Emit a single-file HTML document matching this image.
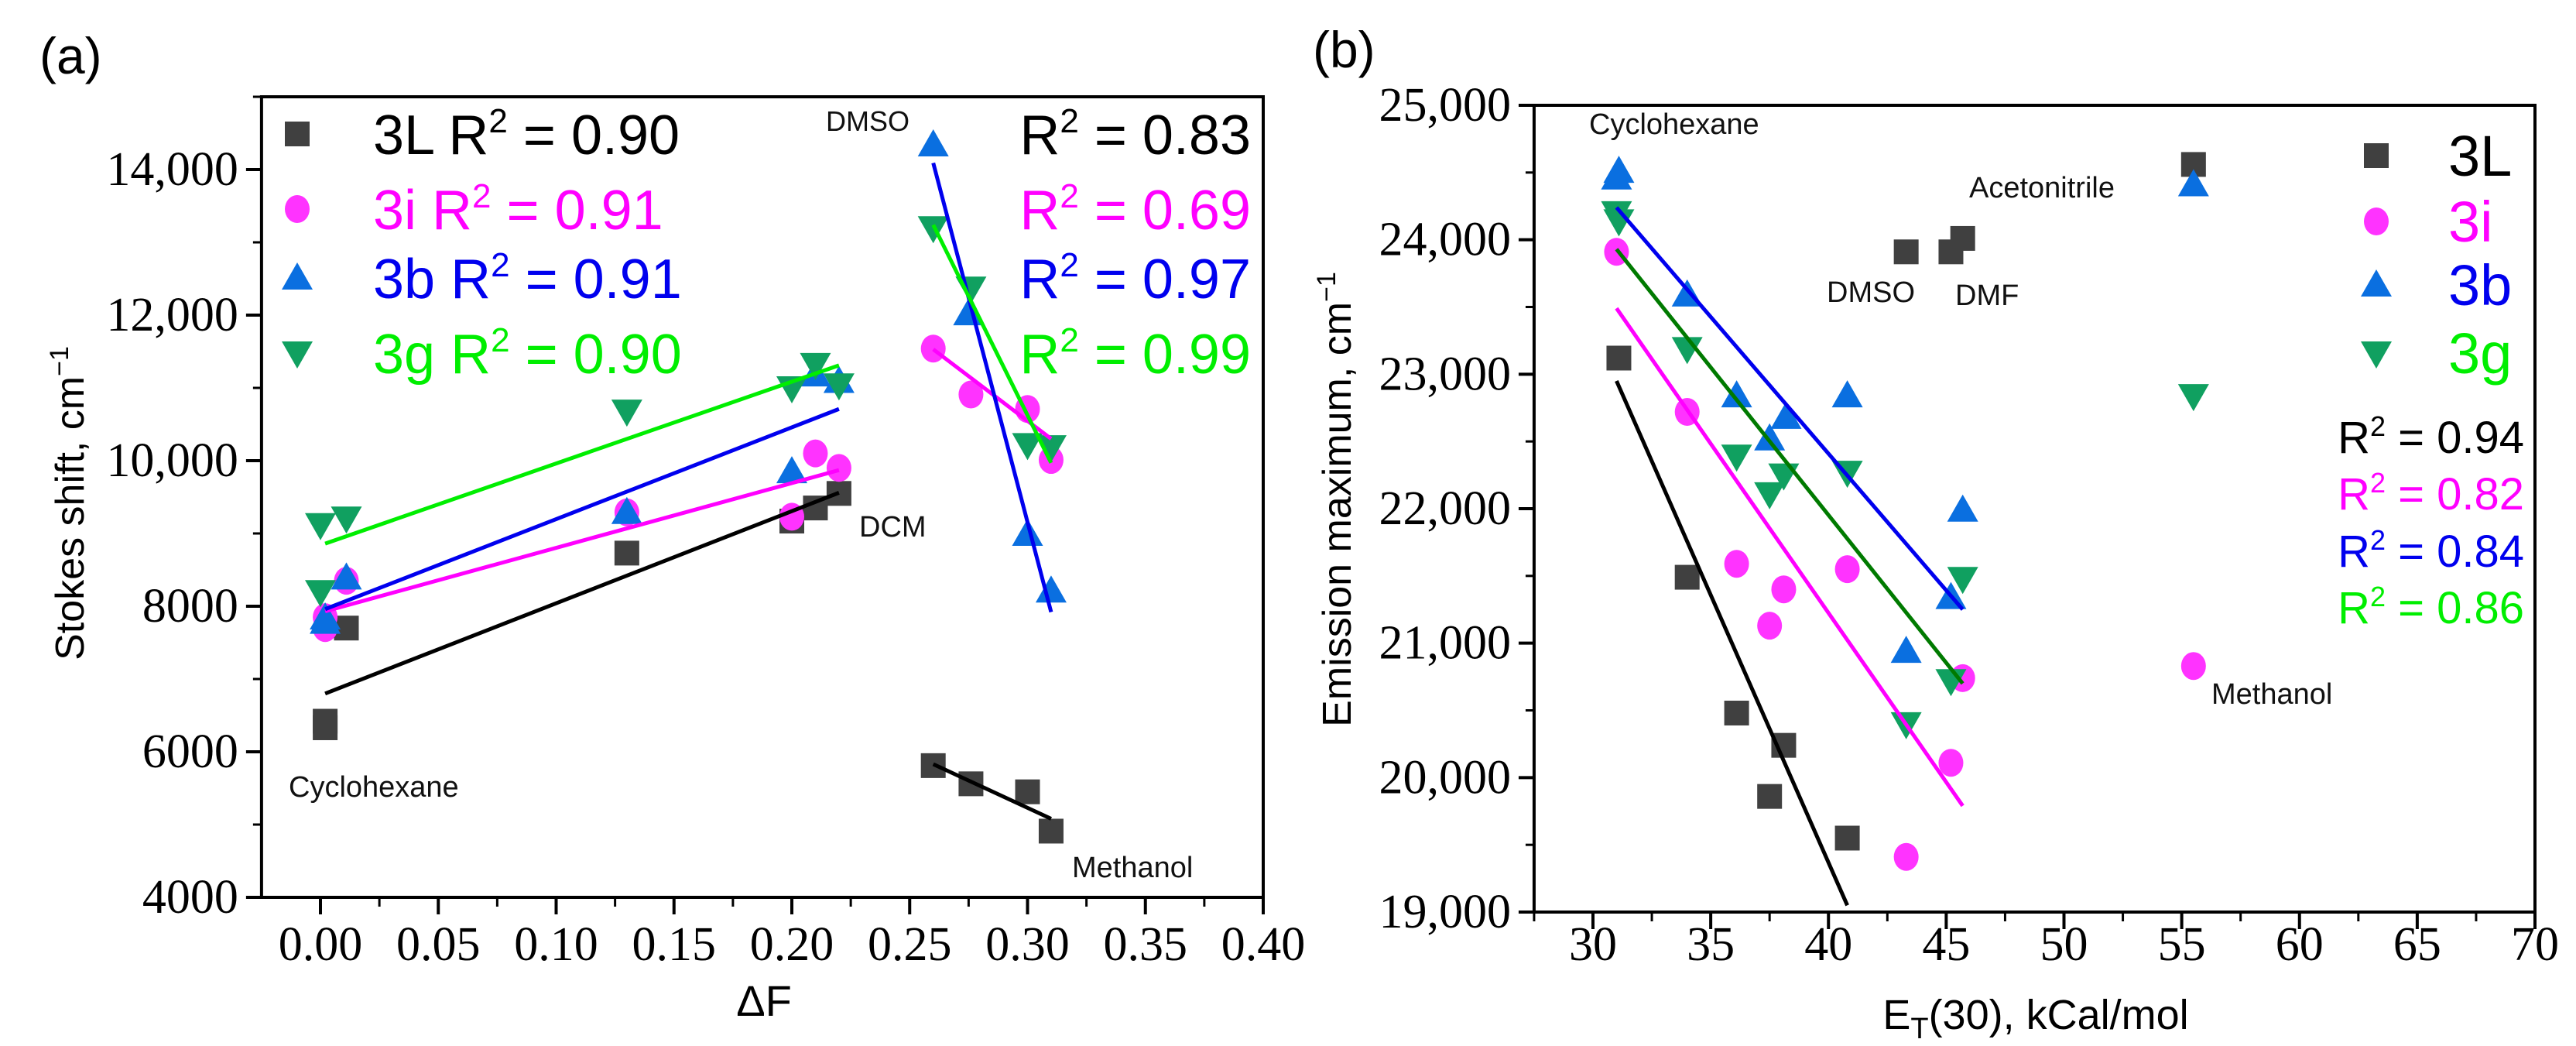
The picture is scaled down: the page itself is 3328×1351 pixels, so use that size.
<!DOCTYPE html>
<html><head><meta charset="utf-8"><style>
html,body{margin:0;padding:0;background:#fff;}
svg{display:block;}
text{font-family:"Liberation Sans",sans-serif;}
.tk{font-family:"Liberation Serif",serif;font-size:62px;}
</style></head><body>
<svg id="chart" width="3328" height="1351" viewBox="0 0 3328 1351" xmlns="http://www.w3.org/2000/svg">
<g id="pa"></g>
<g id="pb"></g>
</svg>
<script>
// ---------- Panel (a) data ----------
const aX3L=[0.002,0.002,0.011,0.13,0.2,0.21,0.22,0.26,0.276,0.30,0.31];
const aY3L=[6420,6330,7700,8730,9170,9350,9550,5810,5560,5450,4910];
const aX3i=[0.002,0.002,0.011,0.13,0.2,0.21,0.22,0.26,0.276,0.30,0.31];
const aY3i=[7700,7850,8350,9290,9230,10100,9900,11540,10910,10710,10010];
const aX3b=[0.002,0.002,0.011,0.13,0.2,0.21,0.22,0.26,0.275,0.30,0.31];
const aY3b=[7840,7780,8390,9290,9850,11180,11090,14340,12020,8990,8210];
const aX3g=[0,0,0.011,0.13,0.2,0.21,0.22,0.26,0.276,0.30,0.31];
const aY3g=[9120,8200,9210,10680,11000,11320,11040,13200,12370,10220,10190];
// fit lines [x1,y1,x2,y2]
const aFit3L=[[0.002,6800,0.22,9560],[0.26,5830,0.31,5080]];
const aFit3i=[[0.002,7930,0.22,9870],[0.26,11530,0.31,10300]];
const aFit3b=[[0.002,7960,0.22,10710],[0.26,14090,0.31,7920]];
const aFit3g=[[0.002,8860,0.22,11310],[0.26,13240,0.31,9970]];
const aXTicks=[0,0.05,0.10,0.15,0.20,0.25,0.30,0.35,0.40];
const aXTickLabels=["0.00","0.05","0.10","0.15","0.20","0.25","0.30","0.35","0.40"];
const aYTicks=[4000,6000,8000,10000,12000,14000];
const aYTickLabels=["4000","6000","8000","10,000","12,000","14,000"];
// ---------- Panel (b) data ----------
const bX3L=[31.1,34,36.1,38.1,37.5,40.8,43.3,45.2,45.7,55.5];
const bY3L=[23120,21490,20480,20240,19860,19550,23910,23910,24010,24560];
const bX3i=[31,34,36.1,38.1,37.5,40.8,43.3,45.2,45.7,55.5];
const bY3i=[23910,22720,21590,21400,21130,21550,19410,20110,20740,20830];
const bX3b=[31.1,31,34,36.1,37.5,38.2,40.8,43.3,45.2,45.7,55.5];
const bY3b=[24510,24460,23590,22840,22520,22680,22840,20940,21340,21990,24410];
const bX3g=[31,31.1,34,36.1,37.5,38.1,40.8,43.3,45.2,45.7,55.5];
const bY3g=[24200,24140,23190,22390,22110,22250,22270,20400,20720,21480,22840];
const bFit3L=[31,22950,40.8,19050];
const bFit3i=[31,23490,45.7,19790];
const bFit3b=[31,24240,45.7,21250];
const bFit3g=[31,23930,45.7,20700];
const bXTicks=[30,35,40,45,50,55,60,65,70];
const bXTickLabels=["30","35","40","45","50","55","60","65","70"];
const bYTicks=[19000,20000,21000,22000,23000,24000,25000];
const bYTickLabels=["19,000","20,000","21,000","22,000","23,000","24,000","25,000"];

const NS="http://www.w3.org/2000/svg";
function mk(parent,tag,attrs,txt){const e=document.createElementNS(NS,tag);for(const k in attrs)e.setAttribute(k,attrs[k]);if(txt!==undefined)e.textContent=txt;parent.appendChild(e);return e;}
const C={sq:"#404040",ci:"#ff33ff",tu:"#0a6fe0",td:"#10a060"};

function marker(g,shape,x,y,name){
  let e;
  if(shape==="sq") e=mk(g,"rect",{x:x-16,y:y-16,width:32,height:32,fill:C.sq});
  else if(shape==="ci") e=mk(g,"ellipse",{cx:x,cy:y,rx:16,ry:18,fill:C.ci});
  else if(shape==="tu") e=mk(g,"polygon",{points:`${x},${y-20} ${x-20},${y+15} ${x+20},${y+15}`,fill:C.tu});
  else e=mk(g,"polygon",{points:`${x},${y+20} ${x-20},${y-15} ${x+20},${y-15}`,fill:C.td});
  
  
  return e;
}

function axes(g,X,Y,x0,x1,y0,y1,xt,xtl,yt,ytl,xminor,yminor,labY){
  const fr=mk(g,"rect",{x:X(x0),y:Y(y1),width:X(x1)-X(x0),height:Y(y0)-Y(y1),fill:"none",stroke:"#000","stroke-width":4});
  
  
  xt.forEach((v,i)=>{
    const t=mk(g,"line",{x1:X(v),x2:X(v),y1:Y(y0),y2:Y(y0)+22,stroke:"#000","stroke-width":4});
    
    
    const l=mk(g,"text",{x:X(v),y:labY,"text-anchor":"middle",class:"tk"},xtl[i]);
    
    
  });
  for(let v=xminor[0];v<=x1+1e-9;v+=xminor[1]){mk(g,"line",{x1:X(v),x2:X(v),y1:Y(y0),y2:Y(y0)+12,stroke:"#000","stroke-width":3});}
  yt.forEach((v,i)=>{
    const t=mk(g,"line",{x1:X(x0)-20,x2:X(x0),y1:Y(v),y2:Y(v),stroke:"#000","stroke-width":4});
    
    
    const l=mk(g,"text",{x:X(x0)-30,y:Y(v)+20,"text-anchor":"end",class:"tk"},ytl[i]);
    
    
  });
  for(let v=yminor[0];v<=y1+1e-9;v+=yminor[1]){mk(g,"line",{x1:X(x0)-11,x2:X(x0),y1:Y(v),y2:Y(v),stroke:"#000","stroke-width":3});}
}
function line(g,X,Y,f,col,name){
  const e=mk(g,"line",{x1:X(f[0]),y1:Y(f[1]),x2:X(f[2]),y2:Y(f[3]),stroke:col,"stroke-width":5});
  
  
}
function txt(g,x,y,s,size,col,anchor,name,extra){
  const e=mk(g,"text",Object.assign({x:x,y:y,"font-size":size,fill:col,"text-anchor":anchor||"start"},extra||{}));
  e.innerHTML=s;
  
  
  return e;
}

// ===== Panel a =====
(function(){
  const g=document.getElementById("pa");
  const X=v=>414+(v-0)*(1632-414)/0.4;
  const Y=v=>1159-(v-4000)*(1159-125)/11000;
  axes(g,X,Y,-0.025,0.40,4000,15000,aXTicks,aXTickLabels,aYTicks,aYTickLabels,[0.025,0.05],[5000,2000],1240);
  const series=[["sq",aX3L,aY3L,"3l"],["ci",aX3i,aY3i,"3i"],["tu",aX3b,aY3b,"3b"],["td",aX3g,aY3g,"3g"]];
  series.forEach(s=>s[1].forEach((x,i)=>marker(g,s[0],X(x),Y(s[2][i]),"point-"+s[3])));
  [[aFit3L,"#000","3l"],[aFit3i,"#ff00ff","3i"],[aFit3b,"#0000ee","3b"],[aFit3g,"#00ee00","3g"]].forEach(f=>f[0].forEach(l=>line(g,X,Y,l,f[1],"fit-line-"+f[2])));
  txt(g,51,95,"(a)",66,"#000","start","panel-label-a");
  const leg=[["sq","3L","#000","0.90","0.83"],["ci","3i","#ff00ff","0.91","0.69"],["tu","3b","#0000ee","0.91","0.97"],["td","3g","#00ee00","0.90","0.99"]];
  const ry=[173,270,359,456];
  leg.forEach((l,i)=>{
    marker(g,l[0],384,ry[i],"legend-marker-"+l[1].toLowerCase());
    txt(g,482,ry[i]+26,`${l[1]} R<tspan dy="-28" font-size="44">2</tspan><tspan dy="28"> = ${l[3]}</tspan>`,72,l[2],"start","legend-entry-"+l[1].toLowerCase());
    txt(g,1616,ry[i]+26,`R<tspan dy="-28" font-size="44">2</tspan><tspan dy="28"> = ${l[4]}</tspan>`,72,l[2],"end","r2-right-"+l[1].toLowerCase());
  });
  txt(g,1067,169,"DMSO",36,"#111","start","label-dmso");
  txt(g,1110,693,"DCM",38,"#111","start","label-dcm");
  txt(g,373,1029,"Cyclohexane",38,"#111","start","label-cyclohexane");
  txt(g,1385,1133,"Methanol",38,"#111","start","label-methanol");
  txt(g,0,0,`Stokes shift, cm<tspan dy="-20" font-size="34">−1</tspan>`,52,"#000","middle","y-axis-title",{transform:"translate(108,650) rotate(-90)"});
  txt(g,987,1312,"ΔF",56,"#000","middle","x-axis-title");
})();

// ===== Panel b =====
(function(){
  const g=document.getElementById("pb");
  const X=v=>2058+(v-30)*(3275-2058)/40;
  const Y=v=>1178-(v-19000)*(1178-136)/6000;
  axes(g,X,Y,27.5,70,19000,25000,bXTicks,bXTickLabels,bYTicks,bYTickLabels,[27.5,2.5],[19500,1000],1240);
  const series=[["sq",bX3L,bY3L,"3l"],["ci",bX3i,bY3i,"3i"],["tu",bX3b,bY3b,"3b"],["td",bX3g,bY3g,"3g"]];
  series.forEach(s=>s[1].forEach((x,i)=>marker(g,s[0],X(x),Y(s[2][i]),"point-"+s[3])));
  [[bFit3L,"#000","3l"],[bFit3i,"#ff00ff","3i"],[bFit3b,"#0000ee","3b"],[bFit3g,"#007a00","3g"]].forEach(f=>line(g,X,Y,f[0],f[1],"fit-line-"+f[2]));
  txt(g,1696,87,"(b)",66,"#000","start","panel-label-b");
  const leg=[["sq","3L","#000","0.94"],["ci","3i","#ff00ff","0.82"],["tu","3b","#0000ee","0.84"],["td","3g","#00ee00","0.86"]];
  const ry=[201,286,368,456];
  const r2y=[585,658,732,805];
  leg.forEach((l,i)=>{
    marker(g,l[0],3070,ry[i],"legend-marker-"+l[1].toLowerCase());
    txt(g,3163,ry[i]+26,l[1],74,l[2],"start","legend-entry-"+l[1].toLowerCase());
    txt(g,3261,r2y[i],`R<tspan dy="-22" font-size="36">2</tspan><tspan dy="22"> = ${l[3]}</tspan>`,58,l[2],"end","r2-"+l[1].toLowerCase());
  });
  txt(g,2053,173,"Cyclohexane",38,"#111","start","label-cyclohexane");
  txt(g,2544,255,"Acetonitrile",38,"#111","start","label-acetonitrile");
  txt(g,2360,390,"DMSO",38,"#111","start","label-dmso");
  txt(g,2526,394,"DMF",38,"#111","start","label-dmf");
  txt(g,2857,909,"Methanol",38,"#111","start","label-methanol");
  txt(g,0,0,`Emission maximum, cm<tspan dy="-20" font-size="34">−1</tspan>`,52,"#000","middle","y-axis-title",{transform:"translate(1745,645) rotate(-90)"});
  txt(g,2630,1329,`E<tspan dy="12" font-size="38">T</tspan><tspan dy="-12">(30), kCal/mol</tspan>`,54,"#000","middle","x-axis-title");
})();
</script>
</body></html>
